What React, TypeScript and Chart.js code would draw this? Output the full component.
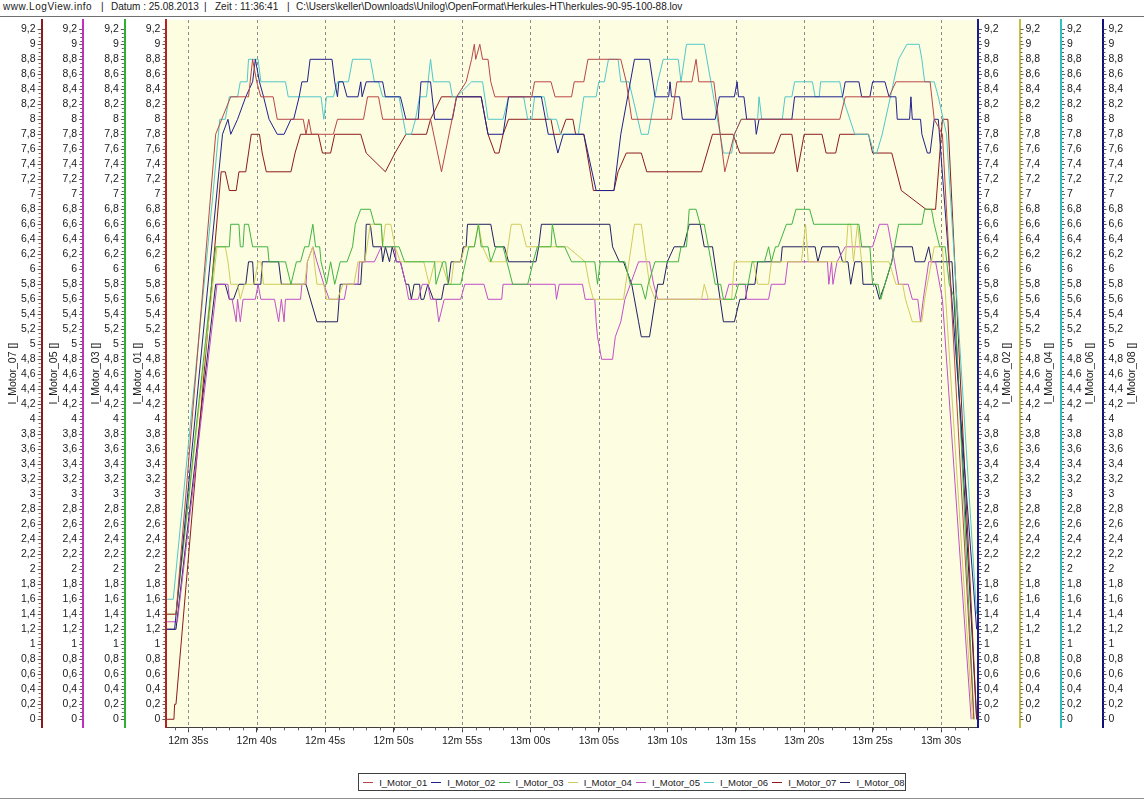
import React, { useEffect, useRef } from "react";
import { Chart, registerables } from "chart.js";

Chart.register(...registerables);

const FONT = "'Liberation Sans', Arial, sans-serif";

// ---------- data (time in seconds, value in A) ----------
const seriesNames = ["I_Motor_01", "I_Motor_02", "I_Motor_03", "I_Motor_04", "I_Motor_05", "I_Motor_06", "I_Motor_07", "I_Motor_08"];
const seriesColors = ["#b84848", "#20208c", "#40b440", "#d0cc5a", "#c050c8", "#50c8c8", "#8c1c1c", "#202060"];
const axisColors = ["#b82020", "#1a1a8c", "#30b030", "#c8c040", "#c030c0", "#30c0c0", "#8b1a1a", "#10107a"];
const axisIds = ["y01", "y02", "y03", "y04", "y05", "y06", "y07", "y08"];
const axisTitles = ["I_Motor_01 []", "I_Motor_02 []", "I_Motor_03 []", "I_Motor_04 []", "I_Motor_05 []", "I_Motor_06 []", "I_Motor_07 []", "I_Motor_08 []"];

const xTickStep = 5;
const xMinorStep = 1;
const yTickStep = 0.2;
const yMinorStep = 0.05;

const m01: number[][] = [[753.45,1.4],[754.1,1.4],[757.0,7.8],[758.1,8.3],[759.4,8.3],[759.7,8.8],[760.0,8.5],[760.3,8.3],[761.2,8.3],[761.5,8.0],[763.4,8.0],[763.6,7.8],[763.8,8.0],[764.0,7.8],[765.6,7.8],[765.9,8.0],[767.8,8.0],[768.1,8.3],[768.9,8.3],[769.2,8.0],[772.7,8.0],[773.5,7.3],[774.6,8.3],[775.3,8.5],[775.7,8.8],[775.9,9.0],[776.0,8.8],[776.3,9.0],[776.5,8.8],[776.9,8.8],[777.1,8.5],[777.4,8.3],[780.1,8.3],[780.3,8.5],[781.5,8.5],[781.8,8.3],[783.0,8.3],[783.2,8.5],[783.9,8.5],[784.2,8.8],[786.6,8.8],[787.0,8.5],[787.4,8.0],[790.3,8.0],[790.7,8.5],[791.8,8.5],[792.1,8.8],[792.3,8.5],[793.4,8.5],[794.2,7.3],[794.9,7.8],[795.4,8.0],[802.6,8.0],[803.0,8.3],[806.2,8.3],[806.7,8.5],[809.2,8.5],[809.5,8.0],[810.1,7.8],[812.4,0.0]];
const m02: number[][] = [[753.45,1.2],[754.0,1.2],[757.5,7.8],[757.9,8.0],[758.1,7.8],[758.6,8.0],[759.2,8.3],[759.7,8.5],[759.9,8.8],[760.2,8.5],[760.5,8.3],[760.9,8.0],[761.5,7.8],[762.0,7.8],[762.5,8.0],[762.7,8.0],[763.1,8.3],[763.3,8.5],[763.7,8.5],[763.9,8.8],[765.5,8.8],[765.7,8.5],[765.9,8.3],[766.0,8.5],[766.3,8.5],[766.6,8.3],[767.4,8.3],[767.6,8.5],[767.7,8.3],[768.0,8.5],[769.2,8.5],[769.4,8.3],[770.5,8.3],[770.9,8.0],[771.8,8.0],[772.0,8.5],[772.7,8.5],[773.0,8.0],[774.3,8.0],[774.6,8.3],[776.4,8.3],[776.9,7.8],[778.0,7.8],[778.4,8.3],[780.8,8.3],[781.3,7.8],[781.7,7.8],[782.0,7.55],[782.4,7.8],[783.9,7.8],[784.8,7.05],[786.1,7.05],[786.6,7.8],[787.6,8.8],[788.7,8.8],[789.1,8.3],[790.1,8.3],[790.2,8.5],[790.3,8.3],[790.9,8.3],[791.1,8.0],[793.5,8.0],[793.8,8.3],[794.9,8.3],[795.1,8.5],[795.2,8.3],[795.6,8.3],[795.8,8.0],[796.4,8.0],[796.5,7.8],[796.7,8.0],[799.1,8.0],[799.3,8.3],[802.8,8.3],[803.0,8.5],[804.0,8.5],[804.2,8.3],[804.8,8.3],[805.0,8.5],[805.9,8.5],[806.2,8.3],[806.7,8.3],[806.8,8.0],[807.7,8.0],[807.8,8.3],[807.9,8.0],[808.5,8.0],[808.6,7.8],[809.0,7.55],[809.2,7.55],[809.5,8.0],[809.8,8.0],[812.6,1.2]];
const m03: number[][] = [[753.45,1.4],[754.1,1.4],[757.0,6.3],[758.0,6.3],[758.1,6.6],[758.7,6.6],[758.8,6.3],[759.0,6.3],[759.1,6.6],[759.4,6.6],[759.7,6.3],[760.8,6.3],[760.9,6.1],[762.1,6.1],[762.5,5.8],[762.9,6.1],[763.2,6.1],[763.5,6.3],[763.8,6.3],[764.1,6.6],[764.3,6.3],[764.6,6.3],[764.7,6.1],[765.1,5.8],[765.4,6.1],[765.7,5.8],[766.1,6.1],[766.6,6.1],[767.0,6.3],[767.2,6.6],[767.6,6.8],[768.3,6.8],[768.6,6.6],[769.1,6.6],[769.2,6.3],[770.4,6.3],[770.8,6.1],[773.0,6.1],[773.1,5.8],[773.6,6.1],[773.8,6.1],[774.0,5.8],[774.9,5.8],[775.5,6.3],[775.9,6.3],[776.2,6.6],[776.4,6.3],[776.9,6.3],[777.1,6.1],[777.5,6.3],[778.0,6.3],[778.7,5.8],[779.8,5.8],[780.2,6.1],[780.5,6.3],[781.5,6.3],[781.6,6.6],[781.9,6.3],[782.5,6.3],[783.0,6.1],[784.7,6.1],[784.9,5.8],[785.1,6.1],[786.9,6.1],[787.3,5.8],[788.1,5.8],[788.4,5.6],[788.6,5.8],[789.1,6.1],[790.8,6.1],[791.0,6.3],[791.4,6.3],[791.6,6.8],[792.1,6.8],[792.4,6.6],[792.7,6.6],[793.0,6.3],[793.5,5.8],[793.9,5.8],[794.1,5.6],[794.9,5.6],[795.2,5.8],[795.9,5.8],[796.2,6.1],[797.1,6.1],[797.4,6.3],[797.6,6.1],[797.9,6.3],[798.1,6.3],[798.7,6.6],[799.1,6.6],[799.4,6.8],[800.4,6.8],[800.7,6.6],[804.0,6.6],[804.2,6.3],[804.8,6.3],[805.0,5.8],[805.4,5.8],[805.6,5.6],[805.9,5.8],[806.4,6.1],[806.9,6.6],[808.6,6.6],[808.8,6.8],[809.3,6.8],[809.5,6.6],[809.9,6.3],[810.3,6.3],[810.6,5.8],[811.0,5.6],[812.4,0.0]];
const m04: number[][] = [[753.45,1.4],[754.1,1.4],[757.1,6.3],[757.7,6.3],[757.9,6.1],[758.1,5.8],[758.6,5.8],[758.8,5.6],[759.1,5.8],[759.8,5.8],[760.1,6.1],[760.3,6.1],[760.5,5.8],[763.5,5.8],[763.7,6.1],[764.1,6.3],[764.2,6.1],[764.4,5.8],[764.9,5.8],[765.1,5.6],[765.9,5.6],[766.3,5.8],[767.1,5.8],[767.4,6.1],[767.9,6.1],[768.3,6.6],[769.1,6.6],[769.2,6.3],[769.4,6.6],[769.8,6.6],[770.1,6.3],[770.5,6.1],[772.2,6.1],[772.6,5.8],[773.0,6.1],[773.5,6.1],[774.0,5.8],[774.2,5.8],[774.4,6.1],[774.9,6.1],[775.2,6.3],[775.9,6.3],[776.2,6.6],[776.5,6.3],[777.0,6.1],[778.2,6.1],[778.6,6.6],[779.3,6.6],[779.7,6.3],[782.7,6.3],[784.0,6.1],[784.3,5.8],[784.6,5.6],[786.8,5.6],[787.6,6.6],[788.1,6.6],[788.7,5.8],[789.1,5.6],[792.5,5.6],[792.7,5.8],[793.0,5.6],[794.7,5.6],[794.9,6.1],[796.3,6.1],[796.6,5.8],[797.4,5.8],[797.6,6.1],[799.8,6.1],[800.1,6.6],[800.3,6.1],[803.0,6.1],[803.2,6.6],[803.4,6.6],[803.6,6.1],[803.9,6.6],[804.2,6.1],[806.2,6.1],[806.7,5.8],[807.2,5.8],[807.4,5.6],[807.9,5.3],[808.6,5.3],[808.8,5.6],[809.5,6.3],[810.1,6.3],[812.3,0.0]];
const m05: number[][] = [[753.45,1.3],[754.2,1.3],[757.1,5.8],[757.9,5.8],[758.0,5.6],[758.2,5.6],[758.5,5.3],[758.6,5.6],[758.8,5.3],[759.0,5.6],[759.9,5.6],[760.1,5.8],[760.3,5.6],[761.3,5.6],[761.6,5.3],[761.8,5.6],[762.0,5.3],[762.1,5.6],[763.2,5.6],[763.3,5.8],[763.6,5.8],[763.7,6.1],[764.1,6.3],[764.4,6.1],[764.9,5.8],[765.3,5.6],[766.4,5.6],[766.6,5.8],[767.4,5.8],[767.5,6.1],[768.6,6.1],[769.1,6.3],[770.1,6.3],[770.2,6.1],[770.5,6.1],[770.9,5.8],[771.1,5.6],[771.8,5.6],[772.1,5.8],[772.5,5.8],[772.7,5.6],[773.1,5.6],[773.3,5.3],[773.7,5.6],[774.9,5.6],[775.2,5.8],[776.6,5.8],[776.9,5.6],[777.9,5.6],[778.0,5.8],[781.8,5.8],[781.9,5.6],[782.1,5.8],[783.8,5.8],[784.0,5.6],[784.7,5.6],[784.8,5.3],[784.9,5.1],[785.2,4.8],[786.0,4.8],[786.2,5.1],[786.6,5.3],[786.9,5.6],[787.3,5.8],[787.9,6.1],[788.7,6.1],[789.0,5.8],[789.3,5.6],[794.2,5.6],[794.5,5.8],[795.7,5.8],[795.8,5.6],[797.4,5.6],[797.6,5.8],[798.6,5.8],[798.8,6.1],[801.7,6.1],[801.8,5.8],[802.0,6.1],[802.1,5.8],[802.4,6.1],[803.0,6.3],[805.0,6.3],[805.5,6.6],[806.1,6.6],[806.4,6.3],[806.6,6.1],[806.9,5.8],[807.6,5.8],[807.9,5.6],[808.3,5.6],[808.5,5.3],[808.7,5.6],[809.1,6.1],[809.6,6.1],[810.1,5.6],[812.2,0.0]];
const m06: number[][] = [[753.45,1.6],[753.9,1.6],[756.8,7.0],[757.3,8.0],[757.7,8.0],[758.0,8.3],[758.6,8.3],[758.8,8.5],[759.3,8.5],[759.4,8.8],[760.1,8.8],[760.3,8.5],[762.1,8.5],[762.3,8.3],[764.7,8.3],[764.9,8.0],[765.1,8.3],[765.6,8.3],[765.9,8.5],[766.7,8.5],[767.0,8.8],[768.3,8.8],[768.6,8.5],[768.9,8.5],[769.2,8.3],[770.4,8.3],[770.9,7.8],[771.3,7.8],[771.6,8.0],[771.9,8.3],[772.4,8.3],[772.7,8.8],[772.9,8.5],[774.1,8.5],[774.3,8.3],[774.6,8.3],[775.7,8.5],[776.5,8.5],[776.9,8.0],[778.0,8.0],[778.4,8.3],[779.5,8.3],[779.8,8.0],[780.1,8.0],[780.3,8.3],[781.0,8.3],[781.3,8.0],[781.9,8.0],[782.2,7.8],[783.5,7.8],[783.9,8.3],[784.8,8.3],[785.0,8.5],[785.4,8.5],[785.7,8.8],[786.4,8.8],[786.6,8.5],[787.2,8.5],[788.1,7.8],[788.6,7.8],[789.3,8.5],[789.7,8.8],[790.8,8.8],[791.0,8.5],[791.4,9.0],[792.7,9.0],[794.1,7.55],[794.7,7.55],[794.9,7.8],[795.4,8.0],[796.6,8.0],[796.7,8.3],[796.9,8.0],[798.4,8.0],[798.6,8.3],[799.1,8.3],[799.3,8.5],[800.6,8.5],[800.8,8.3],[801.1,8.3],[801.2,8.5],[802.6,8.5],[802.8,8.3],[803.7,7.8],[804.7,7.8],[805.1,7.55],[805.3,7.55],[805.7,7.8],[806.3,8.3],[806.9,8.8],[807.5,9.0],[808.4,9.0],[808.6,8.8],[808.8,8.5],[809.5,8.5],[809.8,8.3],[810.4,7.8],[812.6,1.4]];
const m07: number[][] = [[753.45,0.0],[753.95,0.0],[754.0,0.2],[754.1,0.2],[757.4,7.3],[757.7,7.3],[758.0,7.05],[758.5,7.05],[758.7,7.3],[759.2,7.3],[759.4,7.55],[759.6,7.8],[760.2,7.8],[760.4,7.55],[760.7,7.3],[762.5,7.3],[762.8,7.55],[763.2,7.8],[764.5,7.8],[764.8,7.55],[765.4,7.55],[765.7,7.8],[767.6,7.8],[768.0,7.55],[769.4,7.3],[770.1,7.55],[770.9,7.8],[772.4,7.8],[772.7,8.0],[773.5,8.3],[776.4,8.3],[776.9,7.8],[777.4,7.55],[777.7,7.55],[778.0,7.8],[778.4,8.0],[781.5,8.0],[781.7,7.8],[782.2,7.8],[782.6,8.0],[783.1,8.0],[783.3,7.8],[783.9,7.8],[784.6,7.05],[786.1,7.05],[786.4,7.3],[787.0,7.55],[788.1,7.55],[788.5,7.3],[792.5,7.3],[793.3,7.8],[794.8,7.8],[795.3,7.55],[797.8,7.55],[798.3,7.8],[799.1,7.8],[799.5,7.3],[800.0,7.8],[801.3,7.8],[801.6,7.55],[802.3,7.55],[802.6,7.8],[804.7,7.8],[805.0,7.55],[806.4,7.55],[807.1,7.05],[808.9,6.8],[809.6,6.8],[810.1,8.0],[810.5,8.0],[812.6,0.0]];
const m08: number[][] = [[753.45,1.2],[754.1,1.2],[757.0,5.8],[757.7,5.8],[758.0,5.6],[758.3,5.6],[758.7,5.8],[759.2,5.8],[759.4,6.1],[759.7,6.1],[759.8,5.8],[760.3,5.8],[760.4,6.1],[761.6,6.1],[761.8,5.8],[763.6,5.8],[764.4,5.3],[765.9,5.3],[766.1,5.8],[767.6,5.8],[767.7,6.1],[767.9,6.1],[768.0,6.6],[768.3,6.6],[768.5,6.3],[769.1,6.3],[769.2,6.1],[769.4,6.3],[769.7,6.1],[769.9,6.3],[770.2,6.1],[770.5,6.1],[770.9,5.8],[771.1,5.8],[771.3,5.6],[771.5,5.8],[771.9,5.8],[772.0,5.6],[772.2,5.6],[772.5,5.8],[772.9,5.6],[773.5,5.6],[773.7,5.8],[774.0,5.8],[774.2,6.1],[774.9,6.1],[775.1,6.3],[775.3,6.3],[775.4,6.6],[777.1,6.6],[777.4,6.3],[778.1,6.3],[778.4,6.1],[780.4,6.1],[780.6,6.3],[780.8,6.6],[785.8,6.6],[786.0,6.3],[786.5,6.1],[786.8,6.1],[787.4,5.8],[787.9,5.3],[788.1,5.1],[788.7,5.1],[789.3,5.8],[789.7,5.8],[790.0,6.1],[790.5,6.3],[791.2,6.3],[791.6,6.6],[792.4,6.6],[792.7,6.3],[793.3,6.3],[793.7,5.8],[794.1,5.3],[794.9,5.3],[795.3,5.6],[795.7,5.6],[795.9,5.8],[796.4,5.8],[796.6,6.1],[798.3,6.1],[798.4,6.3],[800.8,6.3],[801.0,6.1],[801.3,6.3],[802.5,6.3],[802.8,6.1],[803.2,6.1],[803.4,5.8],[803.7,6.1],[804.2,6.1],[804.3,5.8],[805.2,5.8],[805.5,5.6],[805.9,5.8],[806.4,6.1],[806.6,6.3],[807.9,6.3],[808.1,6.1],[808.8,6.1],[809.1,6.3],[809.3,6.1],[810.8,6.1],[812.6,0.0]];

const seriesData = [m01, m02, m03, m04, m05, m06, m07, m08];

// axis placement: left (inner -> outer) 01,03,05,07 ; right (inner -> outer) 02,04,06,08
const axisPlacement: { [k: string]: [string, number] } = {
  y01: ["left", 0], y03: ["left", 1], y05: ["left", 2], y07: ["left", 3],
  y02: ["right", 0], y04: ["right", 1], y06: ["right", 2], y08: ["right", 3],
};

const Y_MIN = -0.107;
const Y_MAX = 9.324;
const X_MIN = 753.4;
const X_MAX = 812.7;

const PLOT_BG = "#fdfde2";
const W = 1144;
const H = 802;

function fmtY(v: number) {
  const r = Math.round(v * 10) / 10;
  return String(r).replace(".", ",");
}
function fmtT(v: number) {
  const s = Math.round(v);
  const m = Math.floor(s / 60);
  const sec = s % 60;
  return `${m}m ${sec < 10 ? "0" + sec : sec}s`;
}

const decorPlugin = {
  id: "decor",
  beforeDraw(chart: any) {
    const { ctx, chartArea: a } = chart;
    ctx.save();
    ctx.fillStyle = "#ffffff";
    ctx.fillRect(0, 0, chart.width, chart.height);
    ctx.fillStyle = PLOT_BG;
    ctx.fillRect(a.left, a.top, a.right - a.left, a.bottom - a.top);
    ctx.restore();
  },
  beforeDatasetsDraw(chart: any) {
    const { ctx, chartArea: a } = chart;
    const xs = chart.scales.x;
    ctx.save();
    ctx.strokeStyle = "#8c8c8c";
    ctx.lineWidth = 1;
    ctx.setLineDash([3, 3]);
    xs.ticks.forEach((t: any) => {
      const px = Math.round(xs.getPixelForValue(t.value)) + 0.5;
      ctx.beginPath();
      ctx.moveTo(px, a.top);
      ctx.lineTo(px, a.bottom);
      ctx.stroke();
    });
    ctx.restore();
  },
  afterDraw(chart: any) {
    const { ctx, chartArea: a } = chart;
    ctx.save();
    ctx.strokeStyle = "#606060";
    ctx.lineWidth = 1;
    axisIds.forEach((id) => {
      const s = chart.scales[id];
      const left = axisPlacement[id][0] === "left";
      const edge = left ? s.right : s.left;
      for (let v = 0; v <= 9.2 + 1e-6; v += yMinorStep) {
        const py = Math.round(s.getPixelForValue(v)) + 0.5;
        ctx.beginPath();
        if (left) { ctx.moveTo(edge - 1, py); ctx.lineTo(edge - 3, py); }
        else { ctx.moveTo(edge + 1, py); ctx.lineTo(edge + 3, py); }
        ctx.stroke();
      }
    });
    const xs = chart.scales.x;
    for (let t = Math.ceil(X_MIN); t <= X_MAX; t += xMinorStep) {
      const px = Math.round(xs.getPixelForValue(t)) + 0.5;
      ctx.beginPath();
      ctx.moveTo(px, a.bottom);
      ctx.lineTo(px, a.bottom + 3);
      ctx.stroke();
    }
    ctx.fillStyle = "#202020";
    ctx.font = `10.5px ${FONT}`;
    ctx.textAlign = "center";
    ctx.textBaseline = "middle";
    axisIds.forEach((id, i) => {
      const s = chart.scales[id];
      const left = axisPlacement[id][0] === "left";
      const x = left ? s.left + 13 : s.right - 12;
      const y = (a.top + a.bottom) / 2;
      ctx.save();
      ctx.translate(x, y);
      ctx.rotate(-Math.PI / 2);
      ctx.fillText(axisTitles[i], 0, 0);
      ctx.restore();
    });
    ctx.restore();
  },
};

function makeYAxis(id: string, idx: number) {
  const [position, weight] = axisPlacement[id];
  return {
    type: "linear",
    position,
    weight,
    min: Y_MIN,
    max: Y_MAX,
    afterFit: (s: any) => { s.width = position === "left" ? 41.6 : 41.5; },
    grid: { drawOnChartArea: false, drawTicks: true, tickLength: 4, tickColor: "#505050", tickWidth: 1 },
    border: { display: true, color: axisColors[idx], width: 2 },
    ticks: {
      stepSize: yTickStep,
      includeBounds: false,
      autoSkip: false,
      padding: 2,
      color: "#202020",
      font: { family: FONT, size: 10.5 },
      callback: (v: any) => fmtY(Number(v)),
    },
    title: { display: false },
  };
}

function ChartView() {
  const ref = useRef<HTMLCanvasElement | null>(null);
  useEffect(() => {
    if (!ref.current) return;
    const scales: any = {
      x: {
        type: "linear",
        position: "bottom",
        min: X_MIN,
        max: X_MAX,
        afterFit: (s: any) => { s.height = 74.7; },
        grid: { drawOnChartArea: false, drawTicks: true, tickLength: 5, tickColor: "#404040" },
        border: { display: true, color: "#404040", width: 1 },
        ticks: {
          stepSize: xTickStep,
          includeBounds: false,
          autoSkip: false,
          maxRotation: 0,
          padding: 3,
          color: "#202020",
          font: { family: FONT, size: 10.5 },
          callback: (v: any) => fmtT(Number(v)),
        },
      },
    };
    axisIds.forEach((id, i) => { scales[id] = makeYAxis(id, i); });
    const chart = new Chart(ref.current, {
      type: "line",
      data: {
        datasets: seriesData.map((d, i) => ({
          label: seriesNames[i],
          data: d.map((p) => ({ x: p[0], y: p[1] })),
          borderColor: seriesColors[i],
          backgroundColor: seriesColors[i],
          borderWidth: 1,
          pointRadius: 0,
          tension: 0,
          fill: false,
          yAxisID: axisIds[i],
        })),
      },
      options: {
        animation: false,
        responsive: false,
        devicePixelRatio: 1,
        events: [],
        layout: { padding: { top: 20, left: 0, right: 0, bottom: 0 } },
        plugins: { legend: { display: false }, tooltip: { enabled: false }, title: { display: false } },
        scales,
      } as any,
      plugins: [decorPlugin],
    });
    return () => chart.destroy();
  }, []);
  return <canvas ref={ref} width={W} height={H} style={{ position: "absolute", left: 0, top: 0, width: W, height: H }} />;
}

const headerParts = [
  { text: "www.LogView.info", left: 3, spacing: 0.55 },
  { text: "|", left: 101, spacing: 0 },
  { text: "Datum : 25.08.2013", left: 111, spacing: 0 },
  { text: "|", left: 204, spacing: 0 },
  { text: "Zeit : 11:36:41", left: 215, spacing: 0 },
  { text: "|", left: 287, spacing: 0 },
  { text: "C:\\Users\\keller\\Downloads\\Unilog\\OpenFormat\\Herkules-HT\\herkules-90-95-100-88.lov", left: 296, spacing: 0 },
];

export default function App() {
  return (
    <div style={{ position: "fixed", left: 0, top: 0, width: W, height: H, background: "#fff", overflow: "hidden", fontFamily: FONT }}>
      <ChartView />
      <div style={{ position: "absolute", left: 0, top: 0, width: W, height: 16, borderBottom: "1px solid #707070", background: "#fff" }}>
        {headerParts.map((p, i) => (
          <span key={i} style={{ position: "absolute", left: p.left, top: 1, fontSize: 10, letterSpacing: p.spacing, color: "#202020", whiteSpace: "pre" }}>{p.text}</span>
        ))}
      </div>
      <div style={{ position: "absolute", left: 358, top: 773, width: 548, height: 18, border: "1px solid #404040", boxSizing: "border-box", display: "flex", alignItems: "center", background: "#fff" }}>
        {seriesNames.map((n, i) => (
          <div key={n} style={{ width: 68.2, display: "flex", alignItems: "center", flex: "none" }}>
            <span style={{ display: "inline-block", width: 11, height: 1, background: seriesColors[i], marginLeft: 4, marginRight: 6 }} />
            <span style={{ fontSize: 9.5, color: "#202020", whiteSpace: "pre" }}>{n}</span>
          </div>
        ))}
      </div>
      <div style={{ position: "absolute", left: 0, top: 798, width: W, height: 1, background: "#909090" }} />
    </div>
  );
}
